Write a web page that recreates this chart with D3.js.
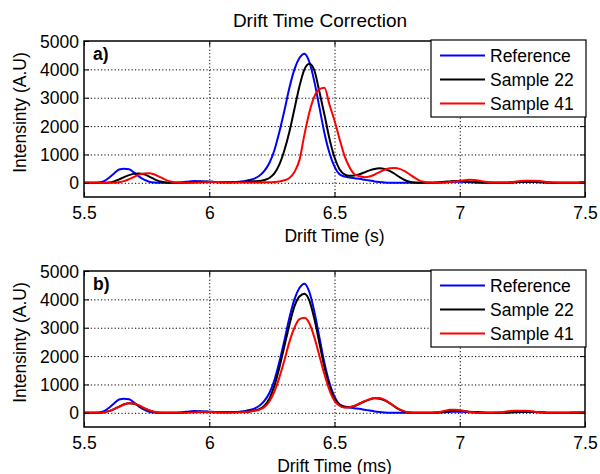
<!DOCTYPE html>
<html>
<head>
<meta charset="utf-8">
<script src="https://cdn.jsdelivr.net/npm/d3@7/dist/d3.min.js"></script>
<style>
  html, body { margin: 0; padding: 0; background: #fff; }
  svg { display: block; font-family: "Liberation Sans", Arial, Helvetica, sans-serif; }
</style>
</head>
<body>
<svg id="chart" width="600" height="474"></svg>
<script>
// ---- Data ----
const driftTime = [
  5.50,5.52,5.54,5.56,5.58,5.60,5.62,5.64,5.66,5.68,
  5.70,5.72,5.74,5.76,5.78,5.80,5.82,5.84,5.86,5.88,
  5.90,5.92,5.94,5.96,5.98,6.00,6.02,6.04,6.06,6.08,
  6.10,6.12,6.14,6.16,6.18,6.20,6.22,6.24,6.26,6.28,
  6.30,6.32,6.34,6.36,6.38,6.40,6.42,6.44,6.46,6.48,
  6.50,6.52,6.54,6.56,6.58,6.60,6.62,6.64,6.66,6.68,
  6.70,6.72,6.74,6.76,6.78,6.80,6.82,6.84,6.86,6.88,
  6.90,6.92,6.94,6.96,6.98,7.00,7.02,7.04,7.06,7.08,
  7.10,7.12,7.14,7.16,7.18,7.20,7.22,7.24,7.26,7.28,
  7.30,7.32,7.34,7.36,7.38,7.40,7.42,7.44,7.46,7.48,
  7.50
];

// Reference (same in both panels)
const reference = [
  0,0,0,10,60,180,330,470,500,480,
  360,220,110,40,10,0,0,0,0,10,
  30,50,60,55,50,40,30,20,20,20,
  30,40,60,100,150,250,420,700,1150,1800,
  2550,3350,4000,4400,4550,4250,3550,2650,1750,1050,
  570,300,220,190,160,140,110,80,50,30,
  15,5,0,0,0,0,0,0,0,0,
  0,10,20,30,40,40,30,20,10,0,
  0,0,0,0,0,10,20,30,30,30,
  30,20,10,0,0,0,0,0,0,10,
  20
];

// Panel a) – before correction
const sample22Raw = [
  0,0,0,0,0,10,50,120,200,270,
  320,330,300,220,130,60,20,5,0,0,
  0,10,30,40,40,40,30,20,20,20,
  20,30,40,50,55,60,100,170,330,650,
  1150,1800,2600,3400,4000,4200,3950,3200,2400,1550,
  900,480,300,250,260,300,370,440,490,510,
  490,420,320,200,100,40,10,0,0,0,
  10,20,40,50,60,60,50,40,30,20,
  10,0,0,0,0,10,20,30,40,40,
  40,30,20,10,0,0,0,0,0,10,
  20
];
const sample41Raw = [
  0,0,0,0,0,0,0,20,60,130,
  210,290,330,340,300,220,130,60,20,5,
  0,0,0,10,20,30,30,30,20,10,
  10,10,10,10,10,10,20,20,30,50,
  90,170,380,800,1700,2500,3050,3300,3350,2750,
  2200,1550,950,550,300,230,200,220,290,380,
  460,510,520,490,410,300,180,80,30,10,
  0,0,10,30,50,70,90,110,100,70,
  40,20,10,10,10,20,40,60,70,70,
  70,60,40,20,10,0,0,0,0,10,
  20
];

// Panel b) – after correction
const sample22Corr = [
  0,0,0,0,20,60,130,220,300,340,
  320,250,160,80,30,5,0,0,0,0,
  10,30,40,40,40,30,20,20,20,20,
  20,30,40,50,80,130,250,500,950,1600,
  2350,3100,3750,4100,4200,3950,3300,2450,1600,950,
  500,280,200,200,240,320,400,470,510,500,
  440,340,220,110,40,10,0,0,0,0,
  10,20,40,60,70,70,60,40,30,20,
  10,0,0,0,10,20,30,40,40,40,
  30,20,10,0,0,0,0,0,0,10,
  20
];
const sample41Corr = [
  0,0,0,0,20,60,130,210,290,340,
  330,260,170,90,35,10,0,0,0,0,
  0,10,20,30,30,30,20,10,10,10,
  10,20,30,40,70,110,200,400,750,1250,
  1850,2500,3000,3300,3350,3150,2650,2000,1350,800,
  420,250,190,200,250,330,410,480,520,520,
  460,350,230,120,50,10,0,0,0,0,
  10,30,70,110,110,90,60,30,10,0,
  0,0,10,20,40,60,70,70,70,60,
  40,20,10,0,0,0,0,10,20,30,
  30
];

const seriesNames = ["Reference", "Sample 22", "Sample 41"];
const seriesColors = ["#0000ff", "#000000", "#ff0000"];
const xTicks = [5.5, 6, 6.5, 7, 7.5];
const yTicks = [0, 1000, 2000, 3000, 4000, 5000];
const chartTitle = "Drift Time Correction";
const yLabel = "Intensinty (A.U)";

const panels = [
  { id: "a", tag: "a)", xLabel: "Drift Time (s)", top: 41, bottom: 197, data: [reference, sample22Raw, sample41Raw] },
  { id: "b", tag: "b)", xLabel: "Drift Time (ms)", top: 271, bottom: 427, data: [reference, sample22Corr, sample41Corr] }
];

// ---- Drawing ----
const svg = d3.select("#chart");
const left = 84, right = 585;
const fontSize = 17.5;

svg.append("text")
  .attr("x", 320).attr("y", 26.5)
  .attr("text-anchor", "middle")
  .attr("font-size", 19)
  .attr("fill", "#000")
  .text(chartTitle);

const x = d3.scaleLinear().domain([5.5, 7.5]).range([left, right]);
const fmt = d => String(d);

panels.forEach(p => {
  const y = d3.scaleLinear().domain([-500, 5000]).range([p.bottom, p.top]);
  const g = svg.append("g");
  const h = p.bottom - p.top, w = right - left;

  // clip
  svg.append("clipPath").attr("id", "clip-" + p.id)
    .append("rect").attr("x", left).attr("y", p.top).attr("width", w).attr("height", h);

  // background
  g.append("rect").attr("x", left).attr("y", p.top).attr("width", w).attr("height", h).attr("fill", "#fff");

  // grid
  const gx = g.append("g").attr("transform", `translate(0,${p.bottom})`)
    .call(d3.axisBottom(x).tickValues(xTicks.filter(v => v > 5.5 && v < 7.5)).tickSize(-h).tickFormat(""));
  const gy = g.append("g").attr("transform", `translate(${left},0)`)
    .call(d3.axisLeft(y).tickValues(yTicks.filter(v => v < 5000)).tickSize(-w).tickFormat(""));
  [gx, gy].forEach(a => {
    a.select(".domain").remove();
    a.selectAll("line").attr("stroke", "#000").attr("stroke-width", 1).attr("stroke-dasharray", "1.2,2.2");
  });

  // lines
  const line = d3.line()
    .x((d, i) => x(driftTime[i]))
    .y(d => y(d))
    .curve(d3.curveMonotoneX);
  const lg = g.append("g").attr("clip-path", `url(#clip-${p.id})`);
  p.data.forEach((arr, k) => {
    lg.append("path").datum(arr)
      .attr("d", line)
      .attr("fill", "none")
      .attr("stroke", seriesColors[k])
      .attr("stroke-width", 2)
      .attr("stroke-linejoin", "round");
  });

  // axes
  const axB = g.append("g").attr("transform", `translate(0,${p.bottom})`)
    .call(d3.axisBottom(x).tickValues(xTicks).tickSizeInner(-5).tickSizeOuter(0).tickPadding(9.6).tickFormat(fmt));
  const axT = g.append("g").attr("transform", `translate(0,${p.top})`)
    .call(d3.axisTop(x).tickValues(xTicks).tickSizeInner(-5).tickSizeOuter(0).tickFormat(""));
  const axL = g.append("g").attr("transform", `translate(${left},0)`)
    .call(d3.axisLeft(y).tickValues(yTicks).tickSizeInner(-5).tickSizeOuter(0).tickPadding(5).tickFormat(fmt));
  const axR = g.append("g").attr("transform", `translate(${right},0)`)
    .call(d3.axisRight(y).tickValues(yTicks).tickSizeInner(-5).tickSizeOuter(0).tickFormat(""));
  [axB, axT, axL, axR].forEach(a => {
    a.select(".domain").remove();
    a.selectAll("line").attr("stroke", "#000").attr("stroke-width", 1);
    a.selectAll("text").attr("font-size", fontSize).attr("fill", "#000")
      .attr("font-family", "'Liberation Sans', Arial, sans-serif");
  });
  axL.selectAll("text").attr("dy", "0.35em");

  // frame
  g.append("rect").attr("x", left).attr("y", p.top).attr("width", w).attr("height", h)
    .attr("fill", "none").attr("stroke", "#000").attr("stroke-width", 1.5);

  // panel tag
  g.append("text").attr("x", 93).attr("y", p.top + 19)
    .attr("font-size", fontSize).attr("font-weight", "bold").attr("fill", "#000")
    .text(p.tag);

  // x label
  g.append("text").attr("x", (left + right) / 2).attr("y", p.bottom + 44.5)
    .attr("text-anchor", "middle").attr("font-size", fontSize).attr("fill", "#000")
    .text(p.xLabel);

  // y label
  g.append("text")
    .attr("transform", `translate(26,${p.top + 71.5}) rotate(-90)`)
    .attr("text-anchor", "middle").attr("font-size", fontSize).attr("fill", "#000")
    .text(yLabel);

  // legend
  const lgX = 431, lgW = right + 1 - lgX, lgY = p.top - 1, lgH = 77;
  const leg = g.append("g");
  leg.append("rect").attr("x", lgX).attr("y", lgY).attr("width", lgW).attr("height", lgH)
    .attr("fill", "#fff").attr("stroke", "#000").attr("stroke-width", 1.2);
  seriesNames.forEach((name, k) => {
    const yy = lgY + 15.5 + k * 24;
    leg.append("line").attr("x1", 440).attr("x2", 485).attr("y1", yy).attr("y2", yy)
      .attr("stroke", seriesColors[k]).attr("stroke-width", 2);
    leg.append("text").attr("x", 490).attr("y", yy).attr("dy", "0.35em")
      .attr("font-size", fontSize).attr("fill", "#000").text(name);
  });
});
</script>
</body>
</html>
